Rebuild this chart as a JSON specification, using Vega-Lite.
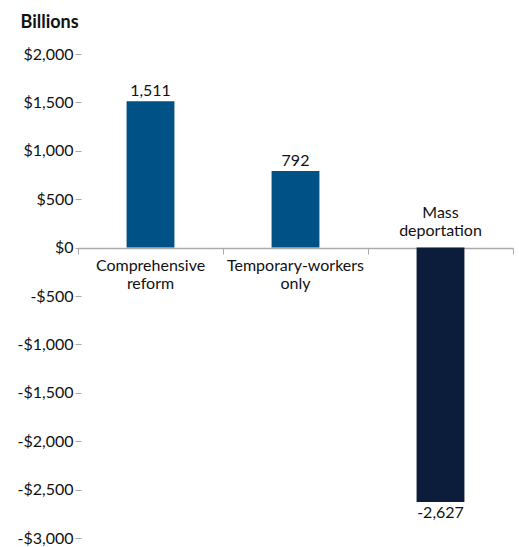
{
  "$schema": "https://vega.github.io/schema/vega-lite/v6.json",
  "autosize": {"type": "none"},
  "padding": {"left": 78, "top": 54, "right": 6, "bottom": 9},
  "width": 435,
  "height": 484,
  "config": {
    "font": "Lato",
    "view": {"stroke": null},
    "locale": {"number": {"decimal": ".", "thousands": ",", "grouping": [3], "currency": ["$", ""], "minus": "-"}},
    "text": {"font": "Lato", "fontSize": 16, "color": "#111111"}
  },
  "data": {
    "values": [
      {"scenario": "Comprehensive reform", "label": "Comprehensive\nreform", "value": 1511},
      {"scenario": "Temporary-workers only", "label": "Temporary-workers\nonly", "value": 792},
      {"scenario": "Mass deportation", "label": "Mass\ndeportation", "value": -2627}
    ]
  },
  "encoding": {
    "x": {
      "field": "scenario",
      "type": "nominal",
      "sort": null,
      "scale": {"paddingInner": 0, "paddingOuter": 0},
      "axis": {
        "title": null,
        "labels": false,
        "orient": "bottom",
        "offset": -290,
        "bandPosition": 1,
        "tickExtra": true,
        "domainColor": "#aaaaaa",
        "tickColor": "#aaaaaa",
        "tickSize": 6,
        "domainWidth": 1.5
      }
    }
  },
  "layer": [
    {
      "mark": {"type": "bar", "width": {"band": 0.33}},
      "encoding": {
        "y": {
          "field": "value",
          "type": "quantitative",
          "scale": {"domain": [-3000, 2000], "nice": false},
          "axis": {
            "values": [-3000, -2500, -2000, -1500, -1000, -500, 0, 500, 1000, 1500, 2000],
            "labelExpr": "datum.value < 0 ? '-$' + format(-datum.value, ',') : '$' + format(datum.value, ',')",
            "domain": false,
            "grid": false,
            "offset": -3,
            "tickSize": 6,
            "tickColor": "#aaaaaa",
            "labelPadding": 2,
            "labelFont": "Lato",
            "labelFontSize": 16,
            "labelColor": "#111111",
            "title": "Billions",
            "titleAngle": 0,
            "titleAlign": "left",
            "titleBaseline": "alphabetic",
            "titleX": -61,
            "titleY": -27,
            "titleFont": "Lato",
            "titleFontSize": 18,
            "titleFontWeight": "bold",
            "titleColor": "#111111"
          }
        },
        "color": {
          "condition": {"test": "datum.value < 0", "value": "#0c1c3b"},
          "value": "#005286"
        }
      }
    },
    {
      "transform": [{"filter": "datum.value >= 0"}],
      "mark": {"type": "text", "baseline": "bottom", "dy": -2},
      "encoding": {
        "y": {"field": "value", "type": "quantitative"},
        "text": {"field": "value", "type": "quantitative", "format": ","}
      }
    },
    {
      "transform": [{"filter": "datum.value < 0"}],
      "mark": {"type": "text", "baseline": "top", "dy": 3},
      "encoding": {
        "y": {"field": "value", "type": "quantitative"},
        "text": {"field": "value", "type": "quantitative", "format": ","}
      }
    },
    {
      "transform": [{"filter": "datum.value >= 0"}],
      "mark": {"type": "text", "baseline": "top", "dy": 10, "lineBreak": "\n", "lineHeight": 18},
      "encoding": {
        "y": {"datum": 0, "type": "quantitative"},
        "text": {"field": "label"}
      }
    },
    {
      "transform": [{"filter": "datum.value < 0"}],
      "mark": {"type": "text", "baseline": "bottom", "dy": -27, "lineBreak": "\n", "lineHeight": 18},
      "encoding": {
        "y": {"datum": 0, "type": "quantitative"},
        "text": {"field": "label"}
      }
    }
  ]
}
